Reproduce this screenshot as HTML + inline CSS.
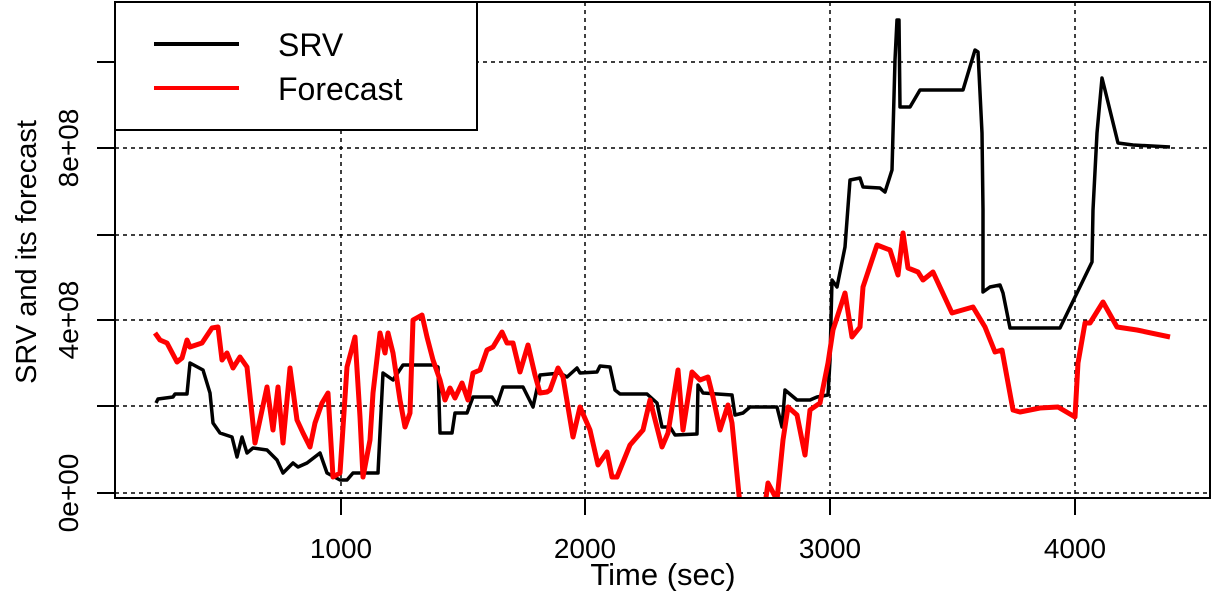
<!DOCTYPE html>
<html><head><meta charset="utf-8"><style>
html,body{margin:0;padding:0;background:#fff;}
svg{display:block;font-family:"Liberation Sans",Arial,sans-serif;}
</style></head><body>
<svg width="1219" height="591" viewBox="0 0 1219 591" xmlns="http://www.w3.org/2000/svg">
<defs><clipPath id="c"><rect x="115" y="2" width="1095" height="496"/></clipPath></defs>
<g stroke="#000" stroke-width="1.5" stroke-dasharray="4,4" fill="none">
<line x1="341" y1="2" x2="341" y2="498"/><line x1="585" y1="2" x2="585" y2="498"/>
<line x1="830" y1="2" x2="830" y2="498"/><line x1="1075" y1="2" x2="1075" y2="498"/>
<line x1="115" y1="493" x2="1210" y2="493"/><line x1="115" y1="406" x2="1210" y2="406"/>
<line x1="115" y1="320" x2="1210" y2="320"/><line x1="115" y1="235" x2="1210" y2="235"/>
<line x1="115" y1="148" x2="1210" y2="148"/><line x1="115" y1="62" x2="1210" y2="62"/>
</g>
<g clip-path="url(#c)" fill="none" stroke-linejoin="round">
<polyline stroke="#000" stroke-width="3.5" points="156,403 158,399 173,397 175,394 187,394 190,363 203,370 210,393 213,423 220,433 232,437 237,457 242,437 247,453 253,448 267,450 277,460 283,473 293,463 298,467 307,463 320,453 327,473 340,480 347,480 353,473 378,473 383,373 393,380 403,365 433,365 438,367 440,433 452,433 455,413 467,413 473,397 492,397 497,405 503,387 523,387 533,407 540,375 560,373 567,377 577,368 580,373 597,372 600,366 610,367 615,390 620,394 647,394 657,403 662,427 670,427 675,435 697,434 698,385 703,393 732,395 735,415 743,413 750,407 777,407 782,427 785,390 797,400 810,400 817,397 828,395 830,360 832,280 837,287 845,247 850,180 860,178 863,187 880,188 885,192 892,170 893,133 895,60 897,20 899,20 900,107 910,107 920,90 963,90 975,50 978,52 982,133 983,210 983,292 990,287 1000,285 1003,293 1010,328 1060,328 1092,262 1093,210 1097,133 1102,78 1105,90 1118,143 1133,145 1170,147"/>
<polyline stroke="#f00" stroke-width="5" points="155,333 160,340 167,343 177,362 182,358 187,340 190,347 202,343 212,328 218,327 222,360 227,353 233,368 240,357 247,367 255,443 267,387 273,430 278,387 283,443 290,368 297,420 303,433 310,447 315,423 322,403 328,393 333,477 340,473 347,367 355,337 360,417 363,477 370,440 373,393 380,333 385,353 388,333 393,353 400,400 405,427 410,413 413,320 422,315 427,337 433,360 440,380 445,400 450,388 455,398 462,383 468,400 473,373 480,370 487,350 493,347 502,332 507,343 513,343 520,372 528,345 535,375 540,393 547,392 550,390 558,368 563,377 573,437 580,407 590,430 598,465 607,452 612,477 617,477 630,445 643,430 650,400 662,447 668,433 678,370 683,430 692,372 700,380 708,377 713,397 720,430 728,405 732,423 740,505 765,505 768,483 777,500 783,440 788,407 797,415 805,455 810,410 820,403 828,363 833,330 845,293 852,337 860,327 863,287 877,245 890,250 898,275 903,233 908,268 918,272 923,280 933,272 952,313 973,307 985,327 995,352 1002,350 1013,410 1020,412 1040,408 1058,407 1075,417 1078,363 1085,323 1090,323 1103,302 1117,327 1137,330 1170,337"/>
</g>
<rect x="115" y="2" width="1095" height="496" fill="none" stroke="#000" stroke-width="2"/>
<rect x="115" y="2" width="362" height="128" fill="#fff" stroke="#000" stroke-width="2"/>
<line x1="154" y1="44" x2="239" y2="44" stroke="#000" stroke-width="4"/>
<line x1="154" y1="88" x2="239" y2="88" stroke="#f00" stroke-width="4"/>
<text x="278" y="56" font-size="32">SRV</text>
<text x="278" y="100" font-size="32">Forecast</text>
<g stroke="#000" stroke-width="2">
<line x1="97" y1="493" x2="115" y2="493"/><line x1="97" y1="406" x2="115" y2="406"/><line x1="97" y1="320" x2="115" y2="320"/><line x1="97" y1="235" x2="115" y2="235"/><line x1="97" y1="148" x2="115" y2="148"/><line x1="97" y1="62" x2="115" y2="62"/>
<line x1="341" y1="498" x2="341" y2="515"/><line x1="585" y1="498" x2="585" y2="515"/><line x1="830" y1="498" x2="830" y2="515"/><line x1="1075" y1="498" x2="1075" y2="515"/>
</g>
<g font-size="28" text-anchor="middle">
<text x="341" y="558">1000</text><text x="585" y="558">2000</text><text x="830" y="558">3000</text><text x="1075" y="558">4000</text>
<text transform="translate(78,493) rotate(-90)">0e+00</text>
<text transform="translate(78,320) rotate(-90)">4e+08</text>
<text transform="translate(78,148) rotate(-90)">8e+08</text>
</g>
<text x="663" y="585" font-size="31" text-anchor="middle">Time (sec)</text>
<text transform="translate(36,252) rotate(-90)" font-size="29" text-anchor="middle">SRV and its forecast</text>
</svg>
</body></html>
